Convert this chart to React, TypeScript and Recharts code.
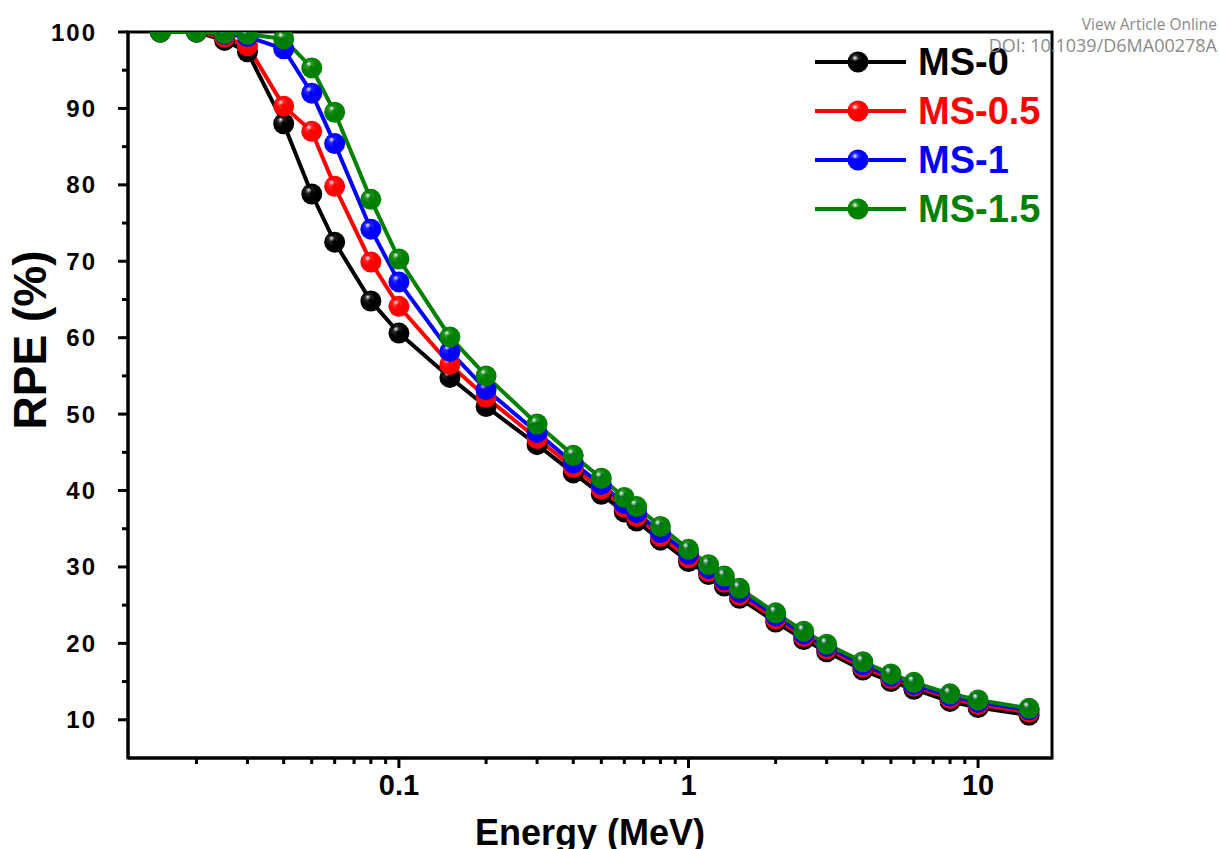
import React from "react";
import { LineChart, Line, XAxis, YAxis, Legend, ReferenceArea } from "recharts";

// energies (MeV) and relative penetration efficiency (%) per sample
const energies = [
  0.015, 0.02, 0.025, 0.03, 0.04, 0.05, 0.06, 0.08, 0.1, 0.15, 0.2, 0.3, 0.4, 0.5, 0.6,
  0.662, 0.8, 1, 1.173, 1.33, 1.5, 2, 2.5, 3, 4, 5, 6, 8, 10, 15,
];
const ms0 = [
  100, 100, 98.9, 97.4, 88.0, 78.8, 72.5, 64.8, 60.6, 54.8, 51.0, 46.0, 42.3, 39.5, 37.2,
  36.0, 33.5, 30.7, 29.0, 27.5, 25.9, 22.8, 20.5, 18.9, 16.5, 15.0, 14.0, 12.4, 11.6, 10.6,
];
const ms05 = [
  100, 100, 99.3, 98.2, 90.3, 87.0, 79.8, 69.9, 64.1, 56.5, 52.2, 46.8, 43.0, 40.2, 37.8,
  36.6, 34.0, 31.2, 29.4, 28.0, 26.3, 23.2, 20.9, 19.3, 16.9, 15.4, 14.4, 12.8, 12.0, 11.0,
];
const ms1 = [
  100, 100, 99.7, 99.4, 97.8, 92.0, 85.4, 74.2, 67.3, 58.2, 53.2, 47.6, 43.6, 40.8, 38.3,
  37.1, 34.5, 31.7, 29.8, 28.3, 26.7, 23.6, 21.2, 19.6, 17.2, 15.7, 14.6, 13.1, 12.3, 11.3,
];
const ms15 = [
  100, 100, 99.8, 99.7, 99.1, 95.3, 89.5, 78.1, 70.3, 60.1, 55.0, 48.7, 44.6, 41.6, 39.1,
  37.9, 35.3, 32.3, 30.3, 28.8, 27.2, 24.0, 21.6, 19.9, 17.6, 16.0, 14.9, 13.4, 12.6, 11.5,
];

const seriesNames = ["MS-0", "MS-0.5", "MS-1", "MS-1.5"];
const seriesKeys = ["ms0", "ms05", "ms1", "ms15"];
const seriesColors = ["#000000", "#ff0000", "#0000ff", "#008000"];

const xDomain = [0.0116, 18];
const yDomain = [5, 100];
const xTicks = [
  0.02, 0.03, 0.04, 0.05, 0.06, 0.07, 0.08, 0.09, 0.1, 0.2, 0.3, 0.4, 0.5, 0.6, 0.7, 0.8, 0.9,
  1, 2, 3, 4, 5, 6, 7, 8, 9, 10,
];
const xMajor = [0.1, 1, 10];
const yTicks = [10, 15, 20, 25, 30, 35, 40, 45, 50, 55, 60, 65, 70, 75, 80, 85, 90, 95, 100];

const data = energies.map((e, i) => ({
  e,
  ms0: ms0[i],
  ms05: ms05[i],
  ms1: ms1[i],
  ms15: ms15[i],
}));

const FONT = "'Liberation Sans', Arial, sans-serif";

function YTick(props: any) {
  const { x, y, payload } = props;
  const major = payload.value % 10 === 0;
  return (
    <g>
      <line x1={x - (major ? 10 : 6)} x2={x} y1={y} y2={y} stroke="#000" strokeWidth={3} />
      {major && (
        <text
          x={x - 31}
          y={y}
          textAnchor="end"
          dominantBaseline="central"
          fontFamily={FONT}
          fontWeight="bold"
          fontSize={24}
          letterSpacing={2}
          fill="#000"
        >
          {payload.value}
        </text>
      )}
    </g>
  );
}

function XTick(props: any) {
  const { x, y, payload } = props;
  const major = xMajor.includes(payload.value);
  return (
    <g>
      <line x1={x} x2={x} y1={y} y2={y + (major ? 10 : 6)} stroke="#000" strokeWidth={3} />
      {major && (
        <text
          x={x}
          y={y + 37}
          textAnchor="middle"
          fontFamily={FONT}
          fontWeight="bold"
          fontSize={29}
          fill="#000"
        >
          {payload.value}
        </text>
      )}
    </g>
  );
}

function Ball(props: any, idx: number) {
  const { cx, cy, index } = props;
  if (cx == null || cy == null) return <g key={index} />;
  return <circle key={index} cx={cx} cy={cy} r={10.5} fill={`url(#ball${idx})`} />;
}

function LegendBox() {
  return (
    <svg width={250} height={200}>
      <defs>
        {seriesColors.map((c, i) => (
          <radialGradient key={i} id={`lball${i}`} cx="0.4" cy="0.4" r="0.6" fx="0.35" fy="0.3">
            <stop offset="0" stopColor="#ffffff" />
            <stop offset="0.25" stopColor={c} stopOpacity={0.85} />
            <stop offset="0.55" stopColor={c} />
            <stop offset="1" stopColor={c} />
          </radialGradient>
        ))}
      </defs>
      {seriesNames.map((n, i) => {
        const cy = 27 + i * 49;
        return (
          <g key={n}>
            <line x1={10} x2={101} y1={cy} y2={cy} stroke={seriesColors[i]} strokeWidth={4} />
            <circle cx={53} cy={cy} r={10.5} fill={`url(#lball${i})`} />
            <text
              x={113}
              y={cy}
              dominantBaseline="central"
              fontFamily={FONT}
              fontWeight="bold"
              fontSize={38}
              fill={seriesColors[i]}
            >
              {n}
            </text>
          </g>
        );
      })}
    </svg>
  );
}

export default function App() {
  return (
    <div style={{ position: "absolute", left: 0, top: 0, width: 1219, height: 849, background: "#fff" }}>
      <LineChart
        width={1219}
        height={849}
        data={data}
        margin={{ top: 32, right: 167, bottom: 31, left: 58 }}
        style={{ position: "absolute", left: 0, top: 0 }}
      >
        <defs>
          {seriesColors.map((c, i) => (
            <radialGradient key={i} id={`ball${i}`} cx="0.4" cy="0.4" r="0.6" fx="0.35" fy="0.3">
              <stop offset="0" stopColor="#ffffff" />
              <stop offset="0.25" stopColor={c} stopOpacity={0.85} />
              <stop offset="0.55" stopColor={c} />
              <stop offset="1" stopColor={c} />
            </radialGradient>
          ))}
        </defs>
        <XAxis
          dataKey="e"
          type="number"
          scale="log"
          domain={xDomain}
          allowDataOverflow
          ticks={xTicks}
          interval={0}
          tick={<XTick />}
          tickLine={false}
          tickSize={0}
          tickMargin={0}
          height={60}
          axisLine={{ stroke: "#000", strokeWidth: 3 }}
          label={{
            content: (p: any) => (
              <text
                x={p.viewBox.x + p.viewBox.width / 2}
                y={p.viewBox.y + 87}
                textAnchor="middle"
                fontFamily={FONT}
                fontWeight="bold"
                fontSize={36}
                fill="#000"
              >
                Energy (MeV)
              </text>
            ),
          }}
        />
        <YAxis
          type="number"
          domain={yDomain}
          allowDataOverflow
          ticks={yTicks}
          interval={0}
          tick={<YTick />}
          tickLine={false}
          tickSize={0}
          tickMargin={0}
          width={70}
          axisLine={{ stroke: "#000", strokeWidth: 3 }}
          label={{
            content: (p: any) => {
              const cx = p.viewBox.x - 28;
              const cy = p.viewBox.y + 308;
              return (
                <text
                  x={cx}
                  y={cy}
                  transform={`rotate(-90 ${cx} ${cy})`}
                  textAnchor="middle"
                  dominantBaseline="central"
                  fontFamily={FONT}
                  fontWeight="bold"
                  fontSize={46}
                  fill="#000"
                >
                  RPE (%)
                </text>
              );
            },
          }}
        />
        <ReferenceArea
          x1={xDomain[0]}
          x2={xDomain[1]}
          y1={yDomain[0]}
          y2={yDomain[1]}
          fill="none"
          stroke="#000"
          strokeWidth={3}
          ifOverflow="visible"
        />
        <Legend
          layout="vertical"
          align="center"
          verticalAlign="middle"
          content={() => <LegendBox />}
          wrapperStyle={{ position: "absolute", left: 805, top: 35, width: 250, height: 200 }}
        />
        {seriesKeys.map((k, i) => (
          <Line
            key={k}
            dataKey={k}
            name={seriesNames[i]}
            type="linear"
            stroke={seriesColors[i]}
            strokeWidth={4}
            dot={(p: any) => Ball(p, i)}
            activeDot={false}
            isAnimationActive={false}
          />
        ))}
      </LineChart>
      <div
        style={{
          position: "absolute",
          right: 2,
          top: 13,
          textAlign: "right",
          fontFamily: "'Open Sans', sans-serif",
          color: "#8a8a8a",
        }}
      >
        <div style={{ fontSize: 15.5, lineHeight: "22px" }}>View Article Online</div>
        <div style={{ fontSize: 18, lineHeight: "20px" }}>DOI: 10.1039/D6MA00278A</div>
      </div>
    </div>
  );
}
